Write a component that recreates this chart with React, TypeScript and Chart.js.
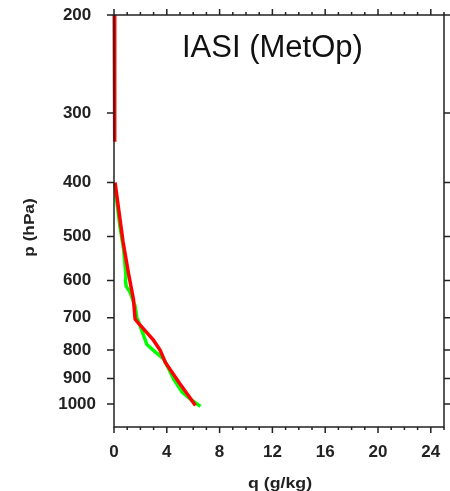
import React, { useEffect, useRef } from 'react';
import { Chart, registerables } from 'chart.js';

Chart.register(...registerables);

// Pressure levels (hPa) shown as tick labels
const pressureTicks = [200, 300, 400, 500, 600, 700, 800, 900, 1000];
// Specific humidity ticks (g/kg)
const qMajorTicks = [0, 4, 8, 12, 16, 20, 24];
const qMinorTicks = [0, 1, 2, 3, 4, 5, 6, 7, 8, 9, 10, 11, 12, 13, 14, 15, 16, 17, 18, 19, 20, 21, 22, 23, 24, 25];

// Red profile (null = gap in the profile)
const redP = [200, 268, 272, 338, 370, 400, 510, 581, 648, 704, 716, 768, 801, 842, 913, 1006];
const redQ = [0.02, 0.02, 0.07, 0.07, null, 0.08, 0.68, 1.09, 1.47, 1.6, 1.85, 2.99, 3.5, 3.89, 4.9, 6.17];

// Green profile
const greenP = [402, 430, 480, 525, 589, 600, 614, 630, 667, 700, 724, 782, 801, 830, 870, 902, 952, 986, 1010];
const greenQ = [0.05, 0.2, 0.45, 0.72, 0.91, 0.87, 0.92, 1.22, 1.6, 1.73, 1.98, 2.49, 2.99, 3.76, 4.2, 4.52, 5.16, 5.92, 6.55];

const chartTitle = 'IASI (MetOp)';
const xTitle = 'q (g/kg)';
const yTitle = 'p (hPa)';

const FONT = '"Liberation Sans", Arial, Helvetica, sans-serif';

const framePlugin = {
  id: 'frame',
  afterDraw(chart: any) {
    const { ctx, chartArea } = chart;
    const xs = chart.scales.x;
    const ys = chart.scales.y;
    const { left, right, top, bottom } = chartArea;
    ctx.save();
    ctx.strokeStyle = '#222';
    ctx.lineWidth = 1.5;
    ctx.beginPath();
    ctx.rect(left, top, right - left, bottom - top);
    ctx.stroke();
    ctx.beginPath();
    for (const v of qMinorTicks) {
      const x = xs.getPixelForValue(v);
      const len = qMajorTicks.includes(v) ? 6 : 3;
      ctx.moveTo(x, bottom);
      ctx.lineTo(x, bottom + len);
      ctx.moveTo(x, top);
      ctx.lineTo(x, top - len);
    }
    for (const p of pressureTicks) {
      const y = ys.getPixelForValue(p);
      ctx.moveTo(left - 7, y);
      ctx.lineTo(left, y);
      ctx.moveTo(right, y);
      ctx.lineTo(right + 6, y);
    }
    ctx.stroke();

    // chart title inside plot
    ctx.fillStyle = '#111';
    ctx.font = `31px ${FONT}`;
    ctx.textAlign = 'left';
    ctx.textBaseline = 'alphabetic';
    ctx.fillText(chartTitle, left + 68, top + 42);

    // axis titles (stretched horizontally like the reference)
    ctx.font = `bold 14px ${FONT}`;
    ctx.fillStyle = '#222';
    ctx.save();
    ctx.translate((left + right) / 2 + 1, 488);
    ctx.scale(1.27, 1);
    ctx.textAlign = 'center';
    ctx.textBaseline = 'alphabetic';
    ctx.fillText(xTitle, 0, 0);
    ctx.restore();

    ctx.save();
    ctx.translate(30, 227.5);
    ctx.rotate(-Math.PI / 2);
    ctx.scale(1.23, 1);
    ctx.textAlign = 'center';
    ctx.textBaseline = 'middle';
    ctx.fillText(yTitle, 0, 0);
    ctx.restore();

    ctx.restore();
  },
};

export default function App() {
  const ref = useRef<HTMLCanvasElement>(null);

  useEffect(() => {
    const redData = redP.map((p, i) => ({ x: redQ[i], y: p }));
    const greenData = greenP.map((p, i) => ({ x: greenQ[i], y: p }));
    const chart = new Chart(ref.current as HTMLCanvasElement, {
      type: 'line',
      data: {
        datasets: [
          {
            label: 'red',
            data: redData,
            borderColor: '#ff0000',
            borderWidth: 3.5,
            pointRadius: 0,
            tension: 0,
            spanGaps: false,
            clip: { left: 2, top: 5, right: 5, bottom: 5 } as any,
          },
          {
            label: 'green',
            data: greenData,
            borderColor: '#00ff00',
            borderWidth: 3.5,
            pointRadius: 0,
            tension: 0,
            clip: { left: 2, top: 5, right: 5, bottom: 5 } as any,
          },
        ],
      },
      options: {
        animation: false,
        responsive: true,
        maintainAspectRatio: false,
        layout: { padding: { top: 15, right: 6, left: 0, bottom: 0 } },
        plugins: {
          legend: { display: false },
          tooltip: { enabled: false },
          title: { display: false },
        },
        scales: {
          x: {
            type: 'linear',
            position: 'bottom',
            min: 0,
            max: 25,
            grid: { display: true, drawOnChartArea: false, drawTicks: true, tickLength: 15, tickColor: 'rgba(0,0,0,0)' },
            border: { display: false },
            afterBuildTicks: (s: any) => {
              s.ticks = qMajorTicks.map((v) => ({ value: v }));
            },
            afterFit: (s: any) => {
              s.height = 64;
            },
            ticks: {
              autoSkip: false,
              maxRotation: 0,
              padding: 0,
              color: '#222',
              font: { family: FONT, size: 17, weight: 'bold' },
              callback: (v: any) => String(v),
            },
          },
          y: {
            type: 'logarithmic',
            position: 'left',
            min: 200,
            max: 1100,
            reverse: true,
            grid: { display: true, drawOnChartArea: false, drawTicks: true, tickLength: 18, tickColor: 'rgba(0,0,0,0)' },
            border: { display: false },
            afterBuildTicks: (s: any) => {
              s.ticks = pressureTicks.map((v) => ({ value: v }));
            },
            afterFit: (s: any) => {
              s.width = 114;
            },
            ticks: {
              autoSkip: false,
              crossAlign: 'center',
              padding: 0,
              color: '#222',
              font: { family: FONT, size: 17, weight: 'bold' },
              callback: (v: any) => String(v),
            },
          },
        },
      } as any,
      plugins: [framePlugin],
    });
    return () => chart.destroy();
  }, []);

  return (
    <div style={{ position: 'fixed', left: 0, top: 0, width: 450, height: 491, background: '#fff' }}>
      <canvas ref={ref} />
    </div>
  );
}
